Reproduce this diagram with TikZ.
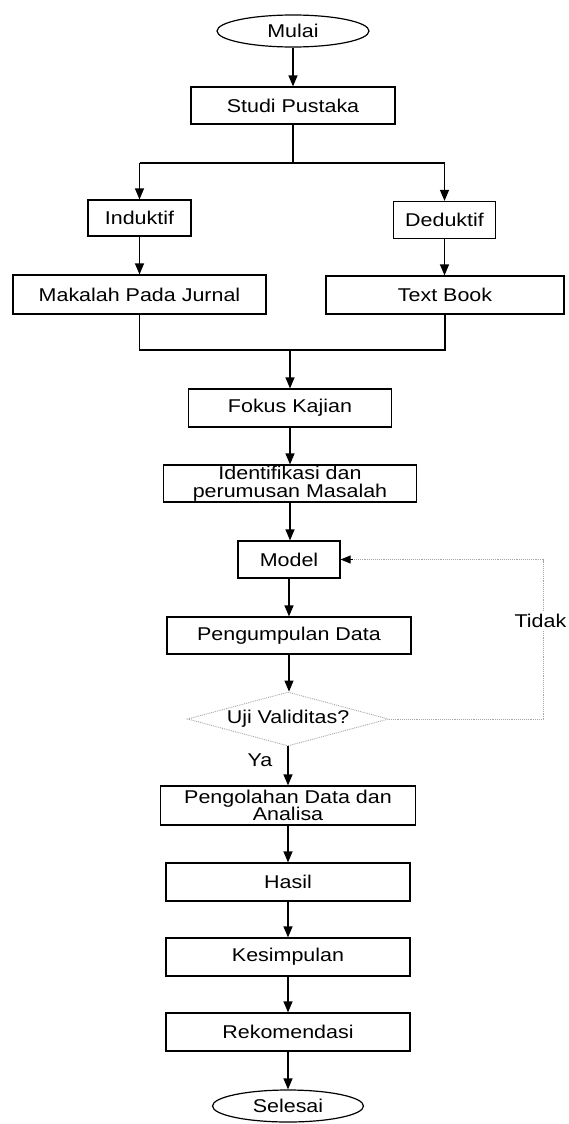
\documentclass[tikz,border=0pt]{standalone}
\usepackage{fontspec}
\setmainfont{Liberation Sans}[FakeStretch=1.16]
\usetikzlibrary{shapes.geometric,arrows.meta}
\begin{document}
\begin{tikzpicture}[x=1pt,y=-1pt,
  every node/.style={font=\fontsize{18.5}{17.5}\selectfont},
  box/.style={draw, line width=1.2pt, rectangle, inner sep=0pt, align=center},
  term/.style={draw, line width=1.2pt, ellipse, inner sep=0pt},
  decide/.style={draw=gray!70, densely dotted, line width=0.9pt, diamond, aspect=3.7, inner sep=0pt},
  line/.style={line width=1.2pt},
  arr/.style={line width=1.2pt, -{Triangle[length=11pt,width=9pt]}},
  fb/.style={draw=gray!70, densely dotted, line width=0.9pt},
  lbl/.style={inner sep=0pt}
]
\useasboundingbox (0,0) rectangle (568,1124);

\node[term, minimum width=152pt, minimum height=32pt] (mulai) at (293,31) {Mulai};
\node[box, minimum width=204pt, minimum height=37pt] (studi) at (293,105.5) {Studi Pustaka};
\node[box, minimum width=103pt, minimum height=36pt] (ind) at (139.5,218) {Induktif};
\node[box, minimum width=102pt, minimum height=37pt] (ded) at (444.5,220) {Deduktif};
\node[box, minimum width=253pt, minimum height=39pt] (mak) at (139.5,294.5) {Makalah Pada Jurnal};
\node[box, minimum width=238pt, minimum height=38pt] (tb) at (445,295) {Text Book};
\node[box, minimum width=203pt, minimum height=38pt] (fokus) at (290,408) {Fokus Kajian};
\node[box, minimum width=253pt, minimum height=37pt] (ident) at (290,483.5) {Identifikasi dan\\perumusan Masalah};
\node[box, minimum width=102pt, minimum height=37pt] (model) at (289,559.5) {Model};
\node[box, minimum width=244pt, minimum height=37pt] (peng) at (289,635.5) {Pengumpulan Data};
\node[decide, minimum width=201pt, minimum height=54pt] (uji) at (288,719) {Uji Validitas?};
\node[box, minimum width=255pt, minimum height=39pt] (olah) at (288,805.5) {Pengolahan Data dan\\Analisa};
\node[box, minimum width=244pt, minimum height=38pt] (hasil) at (288,882) {Hasil};
\node[box, minimum width=244pt, minimum height=38pt] (kes) at (288,957) {Kesimpulan};
\node[box, minimum width=244pt, minimum height=38pt] (rek) at (288,1032) {Rekomendasi};
\node[term, minimum width=151pt, minimum height=32pt] (sel) at (288,1106) {Selesai};

\coordinate (split) at (293,163);
\coordinate (merge) at (290,350);
\coordinate (fbA) at (543,719);
\coordinate (fbB) at (543,559.5);

\draw[arr] (mulai) -- (mulai |- studi.north);
\draw[line] (studi.south) -- (split);
\draw[line] (ind.north |- split) -- (ded.north |- split);
\draw[arr] (ind.north |- split) -- (ind.north);
\draw[arr] (ded.north |- split) -- (ded.north);
\draw[arr] (ind.south) -- (ind.south |- mak.north);
\draw[arr] (ded.south) -- (ded.south |- tb.north);
\draw[line] (mak.south) -- (mak.south |- merge) -- (tb.south |- merge) -- (tb.south);
\draw[arr] (merge) -- (merge |- fokus.north);
\draw[arr] (fokus.south) -- (fokus.south |- ident.north);
\draw[arr] (ident.south) -- (ident.south |- model.north);
\draw[arr] (model.south) -- (model.south |- peng.north);
\draw[arr] (peng.south) -- (peng.south |- uji.north);
\draw[arr] (uji.south) -- (uji.south |- olah.north) node[lbl, pos=0.35, left=15pt] {Ya};
\draw[arr] (olah.south) -- (olah.south |- hasil.north);
\draw[arr] (hasil.south) -- (hasil.south |- kes.north);
\draw[arr] (kes.south) -- (kes.south |- rek.north);
\draw[arr] (rek.south) -- (rek.south |- sel.north);

\draw[fb] (uji.east) -- (fbA) -- (fbB) -- (model.east);
\draw[-{Triangle[length=10pt,width=8pt]}, line width=0.9pt] ([xshift=12pt]model.east) -- (model.east);
\node[lbl, fill=white, anchor=east, inner ysep=3pt, inner xsep=0.5pt] (tidak) at (567,621) {Tidak};
\end{tikzpicture}
\end{document}
